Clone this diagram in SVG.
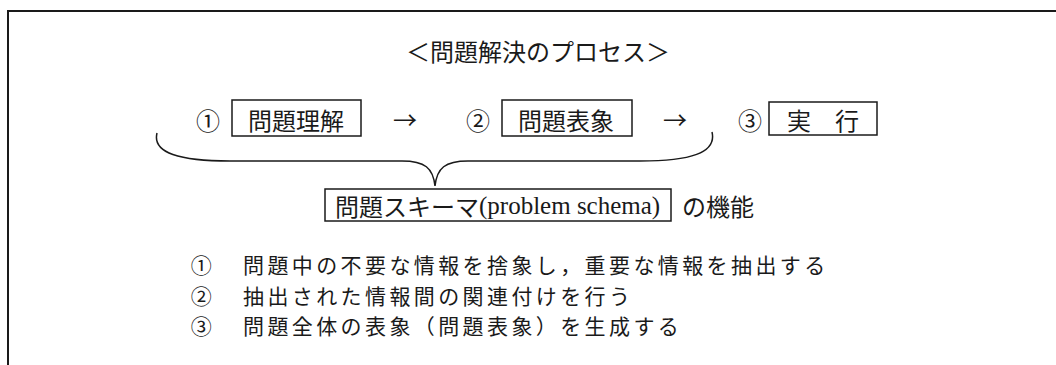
<svg xmlns="http://www.w3.org/2000/svg" width="1056" height="365" viewBox="0 0 1056 365">
<style>
.t{font-family:"Noto Sans CJK JP","Noto Sans",sans-serif;font-size:24px;fill:#1a1a1a;dominant-baseline:central}
.i{font-size:21px;letter-spacing:3.4px}
.s{font-family:"Liberation Serif",serif}
.b{fill:none;stroke:#1a1a1a;stroke-width:1.5}
.f{fill:none;stroke:#1a1a1a;stroke-width:2}
</style>
<rect width="1056" height="365" fill="#fff"/>
<g id="frame"><path class="f" d="M8,365 L8,11 L1056,11"/></g>
<g id="title"><text class="t" x="538" y="50" text-anchor="middle">＜問題解決のプロセス＞</text></g>
<g id="step1"><text class="t" x="208" y="119" text-anchor="middle">①</text><rect class="b" x="232" y="100" width="129" height="36"/><text class="t" x="296" y="119" text-anchor="middle">問題理解</text></g>
<g id="step2"><text class="t" x="478" y="119" text-anchor="middle">②</text><rect class="b" x="502" y="100" width="130" height="36"/><text class="t" x="566" y="119" text-anchor="middle">問題表象</text></g>
<g id="step3"><text class="t" x="750" y="119" text-anchor="middle">③</text><rect class="b" x="769" y="102" width="108" height="33"/><text class="t" x="823" y="119" text-anchor="middle">実　行</text></g>
<g id="connectors">
<text class="t" x="405" y="118" text-anchor="middle">→</text>
<text class="t" x="675" y="118" text-anchor="middle">→</text>
<path class="b" d="M157,133 C152,153 180,161 230,161 L402,161 C425,161 433,168 435,186 C437,168 445,161 468,161 L640,161 C690,161 717,153 712,132"/>
</g>
<g id="schema"><rect class="b" x="325" y="189" width="346" height="32"/><text class="t" x="335" y="205">問題スキーマ<tspan class="s" font-size="25">(problem schema)</tspan></text><text class="t" x="682" y="205">の機能</text></g>
<g id="items">
<text class="t i" x="203" y="264" text-anchor="middle">①</text><text class="t i" x="243" y="264">問題中の不要な情報を捨象し，重要な情報を抽出する</text>
<text class="t i" x="203" y="294.5" text-anchor="middle">②</text><text class="t i" x="243" y="294.5">抽出された情報間の関連付けを行う</text>
<text class="t i" x="203" y="325" text-anchor="middle">③</text><text class="t i" x="243" y="325">問題全体の表象（問題表象）を生成する</text>
</g>
</svg>
